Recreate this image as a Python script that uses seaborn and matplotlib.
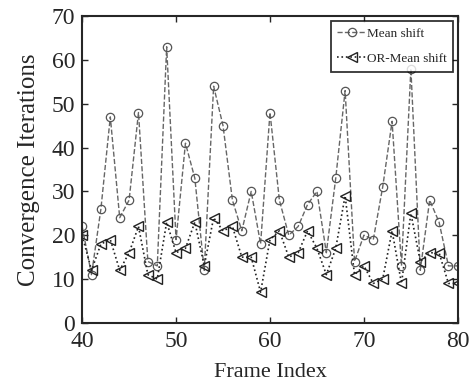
import matplotlib
matplotlib.use("Agg")
import matplotlib.pyplot as plt
import pandas as pd
import seaborn as sns

frames = list(range(40, 81))
mean_shift = [22, 11, 26, 47, 24, 28, 48, 14, 13, 63,
              19, 41, 33, 12, 54, 45, 28, 21, 30, 18,
              48, 28, 20, 22, 27, 30, 16, 33, 53, 14,
              20, 19, 31, 46, 13, 58, 12, 28, 23, 13, 13]
or_mean_shift = [20, 12, 18, 19, 12, 16, 22, 11, 10, 23,
                 16, 17, 23, 13, 24, 21, 22, 15, 15, 7,
                 19, 21, 15, 16, 21, 17, 11, 17, 29, 11,
                 13, 9, 10, 21, 9, 25, 14, 16, 16, 9, 9]

df = pd.DataFrame({"frame": frames, "Mean shift": mean_shift, "OR-Mean shift": or_mean_shift})

sns.set_style("ticks")
plt.rcParams["font.family"] = ["Liberation Serif", "DejaVu Serif"]
plt.rcParams["xtick.direction"] = "in"
plt.rcParams["ytick.direction"] = "in"

fig, ax = plt.subplots(figsize=(4.72, 3.83), dpi=100)
fig.subplots_adjust(left=0.174, right=0.970, top=0.958, bottom=0.157)

sns.lineplot(data=df, x="frame", y="Mean shift", ax=ax, color="#666666", linestyle="--",
             linewidth=1.0, marker="o", markersize=6, markerfacecolor="none",
             markeredgecolor="#555555", markeredgewidth=0.9, label="Mean shift")
sns.lineplot(data=df, x="frame", y="OR-Mean shift", ax=ax, color="#222222", linestyle=":",
             linewidth=1.2, marker="<", markersize=6.5, markerfacecolor="none",
             markeredgecolor="#222222", markeredgewidth=1.0, label="OR-Mean shift")

ax.set_xlim(40, 80)
ax.set_ylim(0, 70)
ax.set_xticks([40, 50, 60, 70, 80])
ax.set_yticks(range(0, 71, 10))
ax.tick_params(labelsize=17, top=True, right=True, length=4, width=1)
ax.tick_params(axis="x", pad=6)
ax.tick_params(axis="y", pad=5)
ax.set_xlabel("Frame Index", fontsize=16, labelpad=8)
ax.set_ylabel("Convergence Iterations", fontsize=18, labelpad=8)
for s in ax.spines.values():
    s.set_linewidth(1.5)

leg = ax.legend(loc="upper right", fontsize=9.5, frameon=True, fancybox=False,
                edgecolor="black", handlelength=2.2, handletextpad=0.05,
                borderaxespad=0.35, borderpad=0.5, labelspacing=1.0)
leg.get_frame().set_linewidth(1.3)

fig.savefig("out.png", dpi=100)
